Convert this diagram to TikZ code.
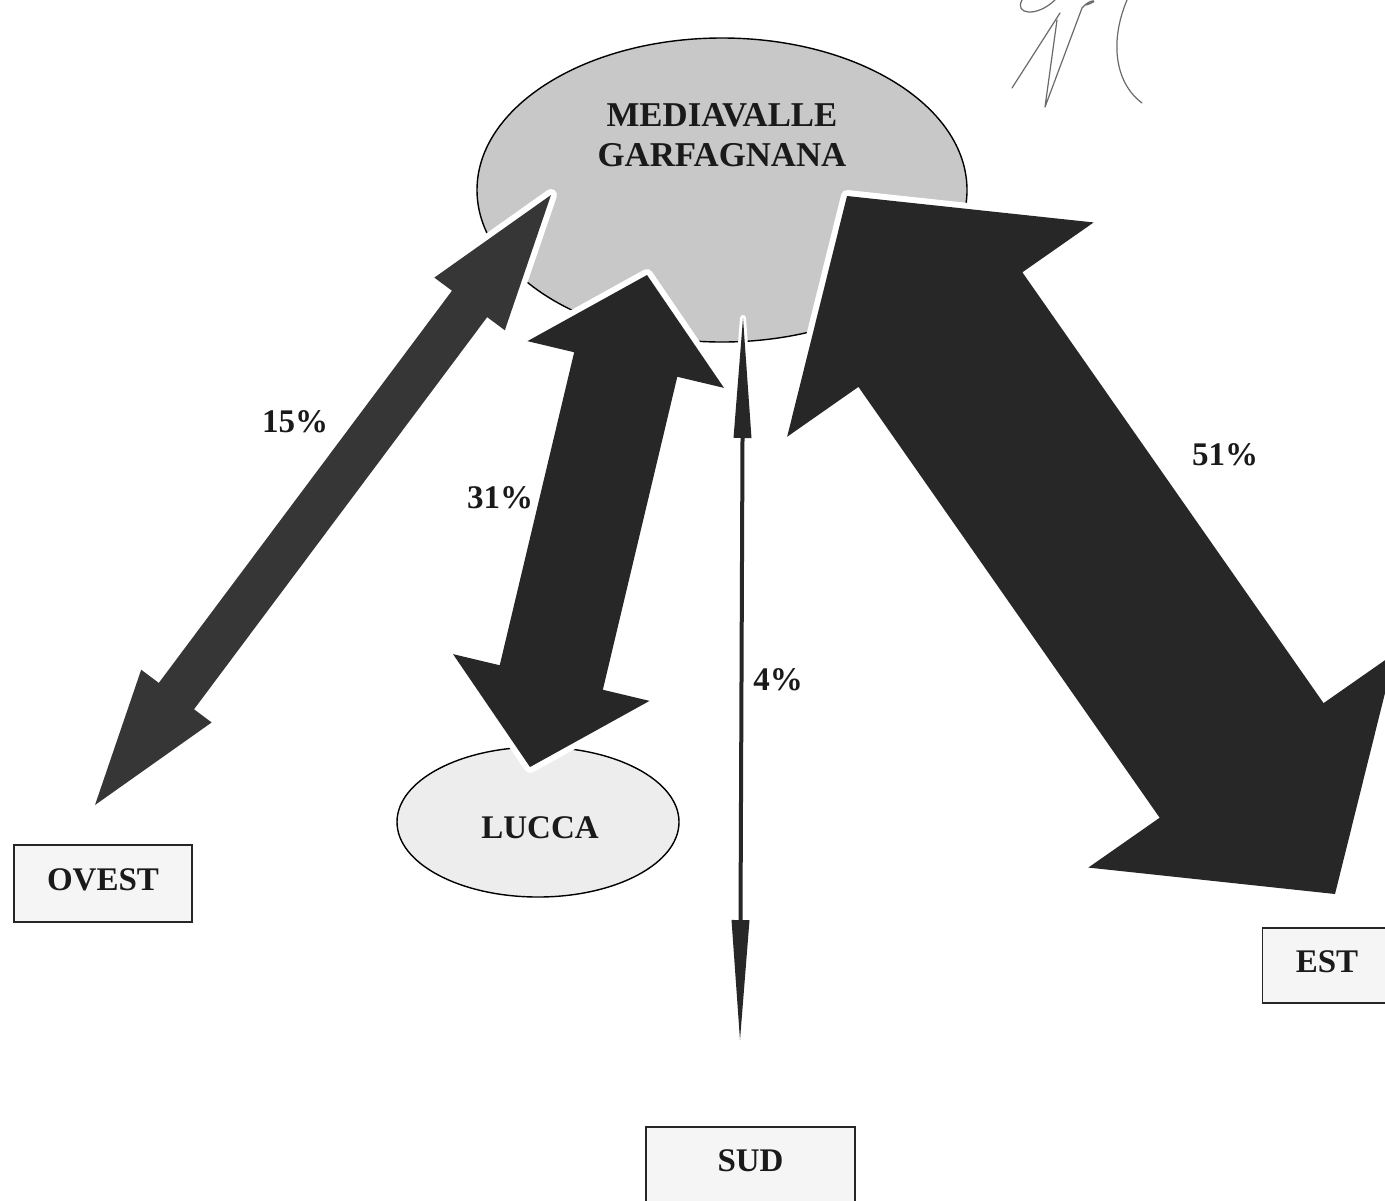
\documentclass[tikz,border=0pt]{standalone}
\usepackage{fontspec}
\setmainfont{Liberation Serif}
\usetikzlibrary{shapes.geometric,calc}
\definecolor{inkc}{HTML}{1A1A1A}
\definecolor{arrowc}{HTML}{272727}
\definecolor{arrowl}{HTML}{363636}
\definecolor{ellbig}{HTML}{C8C8C8}
\definecolor{ellsmall}{HTML}{EDEDED}
\definecolor{boxc}{HTML}{F5F5F5}
\definecolor{sigc}{HTML}{6A6A6A}
% #1 prefix, #2 tip A, #3 tip B, #4 head length, #5 head half width, #6 shaft half width, #7 style
\newcommand{\blockarrow}[7]{%
  \coordinate (#1-a) at ($(#2)!#4!(#3)$);
  \coordinate (#1-b) at ($(#3)!#4!(#2)$);
  \path[#7] (#2) -- ($(#1-a)!#5!90:(#3)$) -- ($(#1-a)!#6!90:(#3)$)
    -- ($(#1-b)!#6!-90:(#2)$) -- ($(#1-b)!#5!-90:(#2)$) -- (#3)
    -- ($(#1-b)!#5!90:(#2)$) -- ($(#1-b)!#6!90:(#2)$)
    -- ($(#1-a)!#6!-90:(#3)$) -- ($(#1-a)!#5!-90:(#3)$) -- cycle;
}
\begin{document}
\begin{tikzpicture}[x=0.5pt,y=-0.5pt,
  lbl/.style={font=\bfseries\fontsize{16.5}{20}\selectfont, text=inkc, inner sep=0pt},
  bigell/.style={ellipse, draw=black, line width=0.7pt, fill=ellbig, inner sep=0pt},
  boxst/.style={rectangle, draw=black!85, line width=0.8pt, fill=boxc, inner sep=0pt,
                font=\bfseries\fontsize{16.5}{20}\selectfont, text=inkc, text depth=4pt},
  arrowst/.style={fill=arrowc, preaction={draw=white, line width=6pt, line join=round}},
  thinarrowst/.style={fill=arrowc, preaction={draw=white, line width=3pt, line join=round}},
  sig/.style={draw=sigc, line width=0.6pt, line cap=round, line join=round}]
\useasboundingbox (0,0) rectangle (1385,1200);
\fill[white] (0,0) rectangle (1385,1200);

% places
\node[bigell, minimum width=245pt, minimum height=152pt] (mg) at (722,190) {};
\node[lbl, align=center, font=\bfseries\fontsize{17.4}{20}\selectfont] (mgtext) at (722,135) {MEDIAVALLE\\GARFAGNANA};
\node[bigell, fill=ellsmall, minimum width=141pt, minimum height=75pt] (lucca) at (538,822) {};
\node[lbl] (luccatext) at (540,828) {LUCCA};
\node[boxst, minimum width=89pt, minimum height=38.5pt] (ovest) at (103,883.5) {OVEST};
\node[boxst, minimum width=64.5pt, minimum height=37.5pt] (est) at (1327,965.5) {EST};
\node[boxst, minimum width=104.5pt, minimum height=38pt] (sud) at (750.5,1165) {SUD};

% arrow end points
\coordinate (o-lo) at (95,805);
\coordinate (o-hi) at (551,195);
\coordinate (l-hi) at (647,275);
\coordinate (l-lo) at (530,767);
\coordinate (e-hi) at (847,196);
\coordinate (e-lo) at (1335,894);
\coordinate (s-hi) at (743,318);
\coordinate (s-lo) at (740,1040);

% arrows
\blockarrow{ao}{o-lo}{o-hi}{68pt}{22pt}{11pt}{arrowst, fill=arrowl}
\blockarrow{al}{l-hi}{l-lo}{46pt}{50.5pt}{26.5pt}{arrowst}
\blockarrow{ae}{e-hi}{e-lo}{81.5pt}{93.5pt}{50pt}{arrowst}
\blockarrow{as}{s-hi}{s-lo}{60pt}{4.5pt}{1pt}{thinarrowst}

% percentages
\node[lbl] (p15) at (295,422) {15\%};
\node[lbl] (p31) at (500,498) {31\%};
\node[lbl] (p4) at (778,680) {4\%};
\node[lbl] (p51) at (1225,455) {51\%};

% signature
\draw[sig] (1012,88) -- (1060,13);
\draw[sig] (1022,0) .. controls (1014,14) and (1036,18) .. (1055,0);
\draw[sig] (1057,20) -- (1045,107) -- (1082,8) .. controls (1090,-2) and (1102,0) .. (1086,5);
\draw[sig] (1127,0) .. controls (1110,40) and (1114,82) .. (1142,103);
\end{tikzpicture}
\end{document}
